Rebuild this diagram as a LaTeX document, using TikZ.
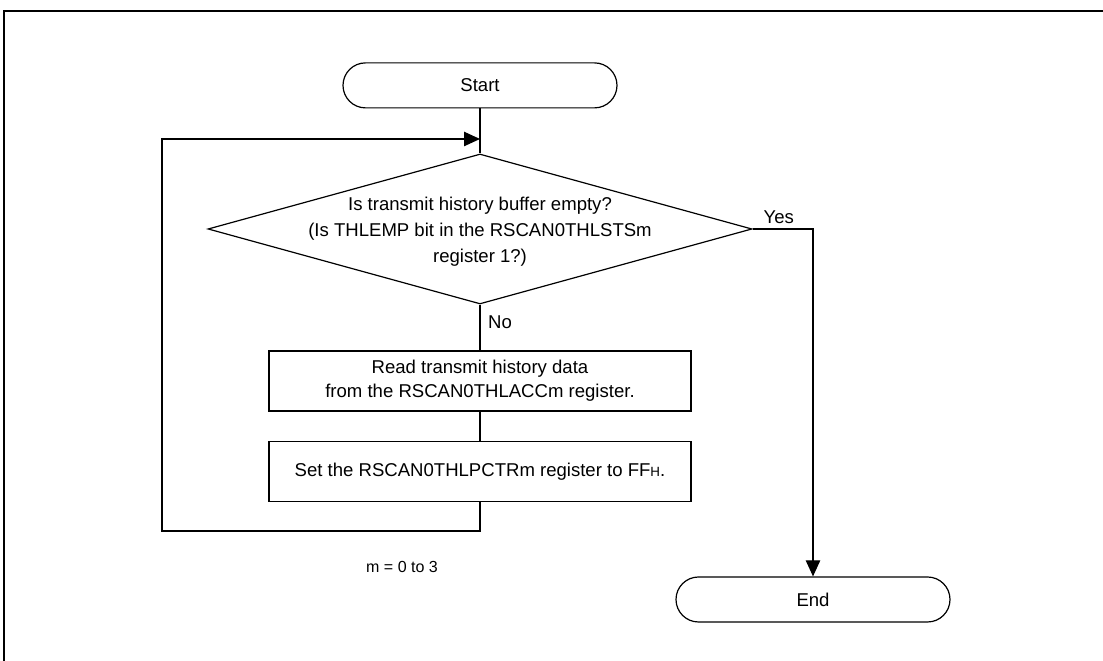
\documentclass[tikz,border=0pt]{standalone}
\usepackage{fontspec}
\setmainfont{Liberation Sans}
\usetikzlibrary{shapes.geometric,arrows.meta}

\tikzset{
  term/.style={draw, rectangle, rounded corners=0.5625cm, minimum width=6.85cm, minimum height=1.125cm, inner sep=0pt},
  proc/.style={draw, rectangle, minimum width=10.55cm, minimum height=1.5cm, inner sep=0pt, align=center},
  decide/.style={draw, diamond, minimum width=13.6cm, minimum height=3.75cm, inner sep=0pt},
  txt/.style={font=\fontsize{13.2}{17}\selectfont, align=center}
}

\begin{document}
\begin{tikzpicture}[line width=0.03cm, >={Triangle[length=0.4cm,width=0.36cm]}, every node/.style={txt}]
\useasboundingbox (0,0) rectangle (27.575,16.525);
\draw[line width=0.05cm] (0.1,0) -- (0.1,16.25) -- (27.575,16.25);

\node[term] (start) at (12,14.39) {Start};
\node[decide] (chk) at (12,10.8) {};
\node[font=\fontsize{13.2}{18.5}\selectfont] (chktxt) at (12,10.74) {Is transmit history buffer empty?\\(Is THLEMP bit in the RSCAN0THLSTSm\\register 1?)};
\node[proc] (rd) at (12,7) {Read transmit history data\\from the RSCAN0THLACCm register.};
\node[proc] (clr) at (12,4.74) {Set the RSCAN0THLPCTRm register to FF{\fontsize{9.5}{9.5}\selectfont H}.};
\node[term] (fin) at (20.325,1.5375) {End};
\node[font=\fontsize{11.4}{13}\selectfont] (cnt) at (10.05,2.36) {m = 0 to 3};

\coordinate (back) at (12,13.05);
\coordinate (lb) at (12,3.25);
\coordinate (ll) at (4.05,3.25);
\coordinate (yc) at (20.325,10.8);

\draw (start) -- (chk);
\draw (chk) -- node[right,pos=0.38,xshift=2pt] (no) {No} (rd);
\draw (rd) -- (clr);
\draw[->] (clr) -- (lb) -- (ll) |- (back);
\draw[->] (chk.east) -- node[above,xshift=-0.1cm] (yes) {Yes} (yc) -- (fin);
\end{tikzpicture}
\end{document}
